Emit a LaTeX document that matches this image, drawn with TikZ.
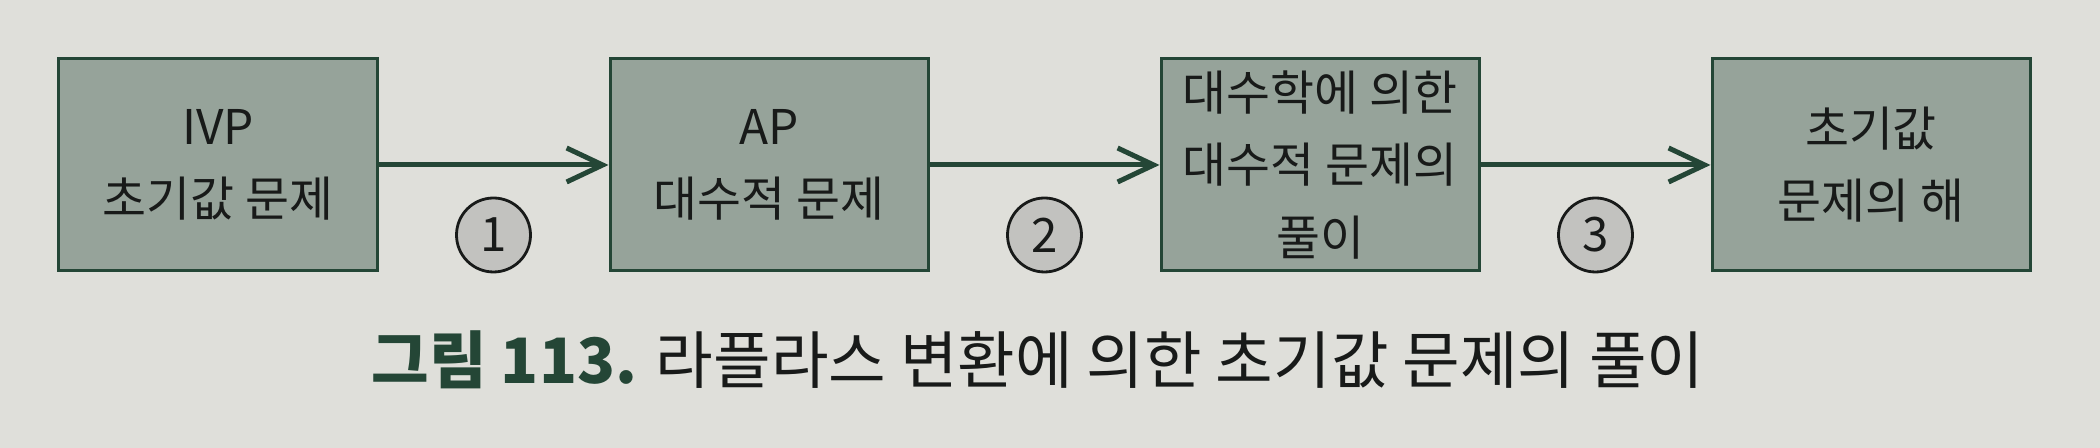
\documentclass[tikz,border=0pt]{standalone}
\usepackage{fontspec}
\setmainfont{Noto Sans CJK KR}
\usetikzlibrary{positioning}
\usetikzlibrary{arrows.meta}

\definecolor{paper}{RGB}{223,223,218}
\definecolor{stagefill}{RGB}{150,163,154}
\definecolor{frame}{RGB}{36,70,54}
\definecolor{numfill}{RGB}{194,194,191}
\definecolor{ink}{RGB}{24,26,25}

\begin{document}
\begin{tikzpicture}[
    stage/.style={draw=frame, fill=stagefill, line width=0.3mm,
      minimum width=31.8mm, minimum height=21.2mm, inner sep=0pt,
      align=center, text=ink, font=\fontsize{13.6}{20.5}\selectfont},
    stepnum/.style={circle, draw=ink, fill=numfill, line width=0.28mm,
      minimum size=7.4mm, inner sep=0pt, text=ink,
      font=\fontsize{13.5}{13.5}\selectfont},
    flow/.style={draw=frame, line width=0.5mm,
      -{Straight Barb[length=3.6mm,width=3.4mm,line width=0.5mm]}},
    node distance=23mm]
  \fill[paper] (0,0) rectangle (21,4.48);
  \useasboundingbox (0,0) rectangle (21,4.48);

  % the four stages
  \node[stage] (ivp) at (2.18,2.83) {IVP\\초기값 문제};
  \node[stage, right=of ivp] (ap) {AP\\대수적 문제};
  \node[stage, right=of ap] (alg) {대수학에 의한\\대수적 문제의\\풀이};
  \node[stage, right=of alg] (sol) {초기값\\문제의 해};

  \draw[flow] (ivp) -- (ap);
  \draw[flow] (ap) -- (alg);
  \draw[flow] (alg) -- (sol);

  % step numbers under the arrows
  \path (ivp) -- node[stepnum, yshift=-7mm] (n1) {1} (ap);
  \path (ap) -- node[stepnum, yshift=-7mm] (n2) {2} (alg);
  \path (alg) -- node[stepnum, yshift=-7mm] (n3) {3} (sol);

  \node[text=ink, font=\fontsize{17.8}{17.8}\selectfont] (caption) at (10.38,0.88)
    {\textcolor{frame}{\bfseries 그림 113.} 라플라스 변환에 의한 초기값 문제의 풀이};
\end{tikzpicture}
\end{document}
